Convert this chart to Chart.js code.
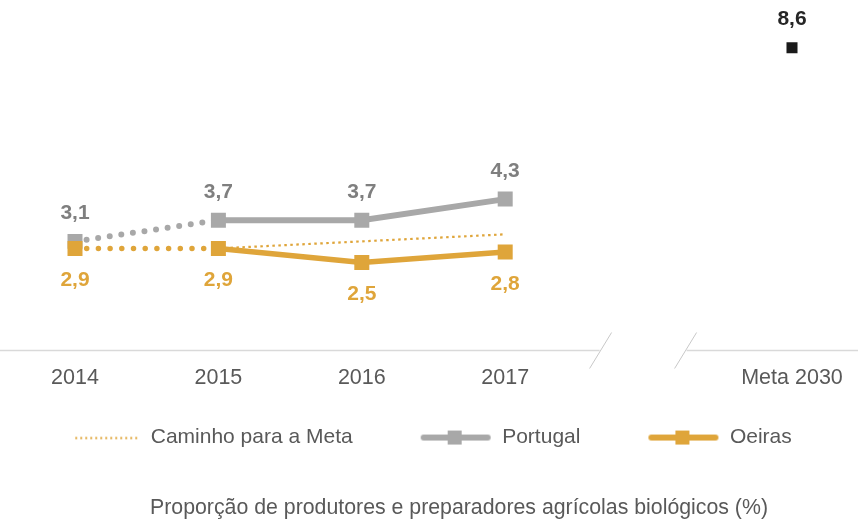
<!DOCTYPE html>
<html><head><meta charset="utf-8">
<script src="https://cdn.jsdelivr.net/npm/chart.js@4"></script>
<style>html,body{margin:0;padding:0;background:#fff}#wrap{width:858px;height:521px}</style>
</head><body><div id="wrap"><canvas id="c" width="858" height="521"></canvas></div>
<script>
const categories = ['2014', '2015', '2016', '2017', '', 'Meta 2030'];
const portugal = [3.1, 3.7, 3.7, 4.3, null, null];
const oeiras = [2.9, 2.9, 2.5, 2.8, null, null];
const caminho = [null, 2.9, 3.1, 3.3, null, null];
const meta = [null, null, null, null, null, 8.6];
const seriesNames = ['Caminho para a Meta', 'Portugal', 'Oeiras'];
const chartTitle = 'Proporção de produtores e preparadores agrícolas biológicos (%)';

const GOLD = '#DFA53A';
const GRAY = '#A8A8A8';
const TEXT = '#595959';
const FONT = '"Liberation Sans", Arial, sans-serif';

function icon(kind, color) {
  const c = document.createElement('canvas');
  c.width = 74; c.height = 20;
  const g = c.getContext('2d');
  if (kind === 'dots') {
    g.strokeStyle = color; g.lineWidth = 2; g.setLineDash([2, 3]);
    g.beginPath(); g.moveTo(9, 10.5); g.lineTo(73, 10.5); g.stroke();
  } else {
    g.strokeStyle = color; g.lineWidth = 6; g.lineCap = 'round';
    g.beginPath(); g.moveTo(6, 10); g.lineTo(70, 10); g.stroke();
    g.fillStyle = color; g.fillRect(30, 3, 14, 14);
  }
  return c;
}
const icons = [icon('dots', GOLD), icon('line', GRAY), icon('line', GOLD)];

const fmt = v => v.toFixed(1).replace('.', ',');

const dotSeg = () => ({
  borderDash: ctx => ctx.p0DataIndex === 0 ? [0, 11.7] : undefined,
  borderCapStyle: ctx => ctx.p0DataIndex === 0 ? 'round' : 'butt'
});

const valueLabels = {
  id: 'valueLabels',
  afterDatasetsDraw(chart) {
    const ctx = chart.ctx;
    ctx.save();
    ctx.font = 'bold 21px ' + FONT;
    ctx.textAlign = 'center';
    ctx.textBaseline = 'middle';
    chart.data.datasets.forEach((ds, i) => {
      if (!ds.labelColor) return;
      const meta = chart.getDatasetMeta(i);
      meta.data.forEach((pt, j) => {
        const v = ds.data[j];
        if (v == null) return;
        ctx.fillStyle = ds.labelColor;
        ctx.fillText(fmt(v), pt.x, pt.y + ds.labelOffset);
      });
    });
    ctx.restore();
  }
};

const axisBreak = {
  id: 'axisBreak',
  beforeDatasetsDraw(chart) {
    const {ctx, chartArea, scales: {x}} = chart;
    const y = Math.round(chartArea.bottom) - 0.5;
    const xb = x.getPixelForValue(4);
    const s1 = xb - 48, s2 = xb + 37;
    ctx.save();
    ctx.strokeStyle = '#D9D9D9';
    ctx.lineWidth = 1.5;
    ctx.beginPath();
    ctx.moveTo(0, y); ctx.lineTo(s1 - 1, y);
    ctx.moveTo(s2 + 1, y); ctx.lineTo(chart.width, y);
    ctx.stroke();
    ctx.strokeStyle = '#C8C8C8';
    ctx.lineWidth = 1;
    ctx.beginPath();
    ctx.moveTo(s1 + 11, y - 18); ctx.lineTo(s1 - 11, y + 18);
    ctx.moveTo(s2 + 11, y - 18); ctx.lineTo(s2 - 11, y + 18);
    ctx.stroke();
    ctx.restore();
  }
};

const shiftTitle = {
  id: 'shiftTitle',
  afterLayout(chart) {
    const t = chart.titleBlock;
    if (t) { t.left += 30; t.right += 30; }
  }
};

const hiddenAxis = (pos, w) => ({
  position: pos, display: true, min: 0, max: 9.5,
  grid: { display: false, drawTicks: false }, border: { display: false },
  ticks: { display: false },
  afterFit: s => { s.width = w; }
});

new Chart(document.getElementById('c'), {
  type: 'line',
  data: {
    labels: categories,
    datasets: [
      { label: 'Meta', data: meta, showLine: false, pointStyle: 'rect', pointRadius: 7.8,
        pointBackgroundColor: '#1A1A1A', pointBorderWidth: 0, labelColor: '#262626', labelOffset: -28 },
      { label: seriesNames[2], data: oeiras, borderColor: GOLD, borderWidth: 5.5, pointStyle: 'rect',
        pointRadius: 10.6, pointBackgroundColor: GOLD, pointBorderWidth: 0, segment: dotSeg(),
        labelColor: GOLD, labelOffset: 32 },
      { label: seriesNames[1], data: portugal, borderColor: GRAY, borderWidth: 6, pointStyle: 'rect',
        pointRadius: 10.6, pointBackgroundColor: GRAY, pointBorderWidth: 0, segment: dotSeg(),
        labelColor: '#7F7F7F', labelOffset: -28 },
      { label: seriesNames[0], data: caminho, borderColor: GOLD, borderWidth: 2.2, borderDash: [2.5, 3.5],
        pointRadius: 0 }
    ]
  },
  options: {
    responsive: false,
    animation: false,
    spanGaps: false,
    layout: { padding: { top: 16, left: 0, right: 0 } },
    scales: {
      x: {
        grid: { display: false, drawTicks: false },
        border: { display: false },
        ticks: { color: TEXT, font: { family: FONT, size: 21.5 }, padding: -40, mirror: true,
                 autoSkip: false, maxRotation: 0 },
        afterFit: s => { s.height = 11.5; }
      },
      y: hiddenAxis('left', 75),
      yr: hiddenAxis('right', 66)
    },
    plugins: {
      tooltip: { enabled: false },
      legend: {
        position: 'bottom',
        labels: {
          usePointStyle: true,
          pointStyleWidth: 74,
          padding: 65,
          color: TEXT,
          font: { family: FONT, size: 21 },
          generateLabels: () => seriesNames.map((n, i) => ({
            text: n, pointStyle: icons[i], fillStyle: 'transparent', strokeStyle: 'transparent',
            lineWidth: 0, hidden: false, fontColor: TEXT, datasetIndex: 3 - i
          }))
        }
      },
      title: {
        display: true, position: 'bottom', text: chartTitle, color: TEXT,
        font: { family: FONT, size: 21.3, weight: 'normal' }, padding: { top: 37, bottom: 0.4 }
      }
    }
  },
  plugins: [axisBreak, valueLabels, shiftTitle]
});
</script></body></html>
